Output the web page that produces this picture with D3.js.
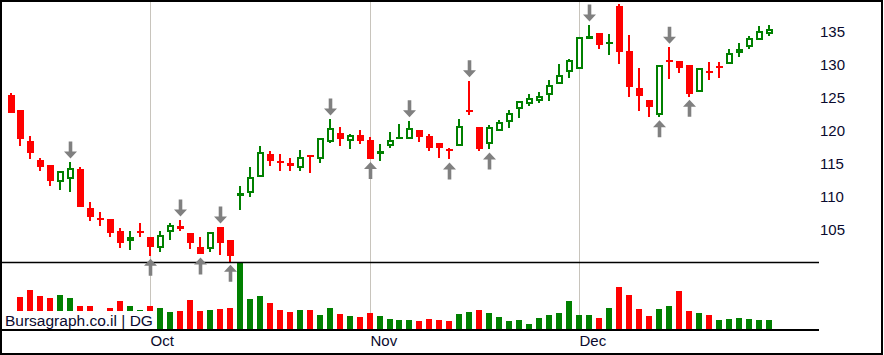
<!DOCTYPE html>
<html>
<head>
<meta charset="utf-8">
<script src="https://cdnjs.cloudflare.com/ajax/libs/d3/7.8.5/d3.min.js"></script>
<style>
  html, body { margin: 0; padding: 0; background: #fff; }
  svg { display: block; font-family: "Liberation Sans", Arial, sans-serif; }
</style>
</head>
<body>
<div id="chart"></div>
<script>
// ----- Data (one entry per trading day) -----
const opens = [
  125.45, 123.2, 118.5, 115.6, 114.85, 112.2, 112.7, 114.2, 108.3, 106.7,
  106.7, 104.85, 103.4, 104.7, 104.0, 102.2, 104.65, 105.6, 104.55, 102.4,
  102.1, 105.45, 103.5, 110.45, 110.55, 113.0, 116.5, 115.3, 115.15, 114.35,
  116.2, 115.8, 118.4, 119.7, 118.5, 119.4, 118.6, 116.7, 117.8, 118.9,
  118.75, 120.15, 119.25, 118.2, 117.15, 117.7, 123.0, 120.6, 118.0, 120.0,
  121.3, 123.4, 124.05, 124.5, 125.4, 127.1, 128.9, 129.45, 133.9, 134.85,
  133.4, 138.9, 132.1, 126.5, 124.7, 122.5, 130.6, 130.6, 130.0, 125.95,
  128.95, 129.7, 130.1, 131.8, 132.7, 133.8, 134.65
];
const highs = [
  125.7, 123.2, 119.2, 115.9, 114.85, 113.9, 115.3, 114.5, 109.2, 107.7,
  106.7, 105.3, 104.85, 106.0, 104.0, 104.85, 106.0, 106.5, 104.55, 103.9,
  104.65, 105.45, 103.5, 111.6, 114.55, 117.8, 116.95, 116.5, 115.9, 117.1,
  116.2, 118.9, 121.8, 120.6, 119.55, 120.15, 119.1, 118.0, 119.85, 121.05,
  121.55, 120.15, 119.55, 118.2, 117.4, 121.8, 127.6, 120.6, 120.9, 121.7,
  123.2, 124.5, 125.6, 125.9, 127.7, 130.15, 130.9, 134.25, 136.05, 134.85,
  134.7, 139.25, 134.55, 129.55, 124.7, 129.95, 132.7, 130.6, 130.0, 129.55,
  130.5, 130.5, 132.4, 133.35, 134.45, 135.9, 136.0
];
const lows = [
  122.8, 117.8, 115.8, 114.0, 111.6, 111.0, 110.8, 108.5, 106.4, 105.65,
  104.0, 102.2, 102.0, 104.0, 101.1, 101.7, 103.5, 104.9, 102.1, 101.3,
  101.6, 101.2, 100.2, 108.0, 110.05, 113.0, 114.75, 114.0, 114.0, 114.0,
  113.7, 115.2, 118.2, 117.8, 117.3, 118.1, 115.75, 115.45, 117.5, 118.9,
  118.75, 118.4, 117.0, 115.95, 115.7, 117.7, 122.4, 117.0, 117.2, 120.0,
  120.5, 122.0, 123.8, 124.3, 124.6, 127.1, 128.1, 129.45, 133.9, 132.5,
  131.5, 130.15, 125.2, 123.1, 122.1, 122.1, 127.9, 128.8, 125.2, 125.95,
  127.8, 128.1, 130.1, 131.2, 132.4, 133.8, 134.45
];
const closes = [
  122.8, 118.8, 116.6, 114.5, 112.5, 113.9, 114.35, 108.5, 106.9, 106.55,
  104.6, 103.1, 104.0, 104.6, 102.5, 104.2, 105.7, 105.15, 103.1, 101.3,
  104.65, 103.1, 101.1, 110.6, 113.0, 116.8, 115.5, 115.05, 114.75, 116.0,
  115.95, 118.9, 120.4, 118.8, 119.35, 118.5, 115.75, 116.9, 118.6, 119.1,
  120.4, 119.05, 117.5, 117.45, 117.05, 120.75, 122.7, 117.3, 120.6, 121.4,
  122.7, 124.5, 124.95, 125.3, 127.0, 128.5, 130.7, 134.25, 134.35, 133.1,
  133.5, 131.9, 126.7, 125.35, 123.65, 129.95, 130.5, 129.6, 125.65, 129.55,
  128.85, 129.6, 131.8, 132.5, 134.05, 135.1, 135.5
];
const volumes = [
  100, 323, 390, 333, 313, 343, 313, 233, 233, 100,
  210, 283, 233, 193, 233, 213, 173, 183, 293, 183,
  193, 203, 213, 665, 300, 333, 257, 193, 173, 190,
  190, 140, 210, 150, 130, 120, 160, 130, 100, 90,
  90, 80, 100, 90, 80, 150, 170, 190, 160, 120,
  80, 90, 50, 110, 140, 160, 280, 140, 140, 110,
  210, 420, 343, 200, 130, 200, 230, 380, 180, 160,
  140, 90, 100, 110, 100, 90, 90
];

// signal arrows (day index)
const sellSignals = [6, 17, 21, 32, 40, 46, 58, 66];
const buySignals  = [14, 19, 22, 36, 44, 48, 65, 68];

// month starts (day index) and labels
const monthStarts = [14, 36, 57];
const monthLabels = ["Oct", "Nov", "Dec"];

const priceTicks = [105, 110, 115, 120, 125, 130, 135];

// ----- Layout -----
const W = 884, H = 355;
const plotRight   = 819;
const priceBottom = 262;
const volTop      = 262;
const volBottom   = 329;

const RED   = "#ff0000";
const GREEN = "#008000";
const ARROW = "#808080";
const TEXT  = "#0a0a2e";

const svg = d3.select("#chart")
  .append("svg")
  .attr("width", W)
  .attr("height", H);

const x = d3.scaleLinear()
  .domain([0, closes.length - 1])
  .range([10.5, 768.5]);

const y = d3.scaleLinear()
  .domain([100, 140])
  .range([263, -1]);

const yVol = d3.scaleLinear()
  .domain([0, 670])
  .range([volBottom, volTop]);

const days = closes.map((c, i) => ({
  i,
  o: opens[i], h: highs[i], l: lows[i], c,
  v: volumes[i],
  up: c >= opens[i],
  volUp: i === 0 ? c >= opens[i] : c >= closes[i - 1]
}));

const cx = d => Math.round(x(d.i));

// ----- Month gridlines -----
svg.append("g")
  .selectAll("line")
  .data(monthStarts)
  .enter()
  .append("line")
  .attr("x1", d => Math.round(x(d)) + 0.5)
  .attr("x2", d => Math.round(x(d)) + 0.5)
  .attr("y1", 0)
  .attr("y2", volBottom)
  .attr("stroke", "#c8c4bc")
  .attr("stroke-width", 1);

// ----- Volume bars -----
svg.append("g")
  .selectAll("rect")
  .data(days)
  .enter()
  .append("rect")
  .attr("x", d => cx(d) - 3)
  .attr("width", 6)
  .attr("y", d => yVol(d.v))
  .attr("height", d => volBottom - yVol(d.v))
  .attr("fill", d => d.volUp ? GREEN : RED)
  .attr("shape-rendering", "crispEdges");

// watermark (white box hides short bars)
svg.append("rect")
  .attr("x", 2).attr("y", 311)
  .attr("width", 152).attr("height", volBottom - 311)
  .attr("fill", "#fff");

svg.append("text")
  .attr("x", 5)
  .attr("y", 326)
  .attr("font-size", 15.5)
  .attr("fill", TEXT)
  .text("Bursagraph.co.il | DG");

// ----- Candles -----
const candles = svg.append("g").attr("shape-rendering", "crispEdges");

// wicks
candles.selectAll(".wick")
  .data(days)
  .enter()
  .append("rect")
  .attr("class", "wick")
  .attr("x", d => cx(d) - 1)
  .attr("width", 2)
  .attr("y", d => y(d.h))
  .attr("height", d => Math.max(1, y(d.l) - y(d.h)))
  .attr("fill", d => d.up ? GREEN : RED);

// red filled bodies
candles.selectAll(".down")
  .data(days.filter(d => !d.up))
  .enter()
  .append("rect")
  .attr("class", "down")
  .attr("x", d => cx(d) - 3)
  .attr("width", 7)
  .attr("y", d => Math.min(y(d.o), y(d.c + 0.0)) - (Math.abs(y(d.c) - y(d.o)) < 2 ? 1 : 0))
  .attr("height", d => Math.max(2, y(d.c) - y(d.o)))
  .attr("fill", RED);

// green hollow bodies
candles.selectAll(".up")
  .data(days.filter(d => d.up))
  .enter()
  .append("rect")
  .attr("class", "up")
  .attr("x", d => cx(d) - 2)
  .attr("width", 5)
  .attr("y", d => y(d.c) + 1)
  .attr("height", d => Math.max(0.5, y(d.o) - y(d.c) - 2))
  .attr("fill", "#fff")
  .attr("stroke", GREEN)
  .attr("stroke-width", 2);

// ----- Panel lines -----
svg.append("line")
  .attr("x1", 0).attr("x2", plotRight)
  .attr("y1", priceBottom + 0.5).attr("y2", priceBottom + 0.5)
  .attr("stroke", "#000")
  .attr("stroke-width", 1.5);

svg.append("line")
  .attr("x1", 0).attr("x2", plotRight)
  .attr("y1", volBottom + 1).attr("y2", volBottom + 1)
  .attr("stroke", "#000")
  .attr("stroke-width", 2);

// ----- Signal arrows -----
function arrowPath(tipX, tipY, dir) {
  // dir = 1 pointing down, -1 pointing up
  const headH = 7, headW = 6.5, shaftW = 1.8, shaftH = 10;
  const hy = tipY - dir * headH;
  const ty = hy - dir * shaftH;
  return `M${tipX},${tipY} L${tipX - headW},${hy} L${tipX - shaftW},${hy}
          L${tipX - shaftW},${ty} L${tipX + shaftW},${ty} L${tipX + shaftW},${hy}
          L${tipX + headW},${hy} Z`;
}

const arrows = svg.append("g").attr("fill", ARROW);

arrows.selectAll(".sell")
  .data(sellSignals.map(i => days[i]))
  .enter()
  .append("path")
  .attr("class", "sell")
  .attr("d", d => arrowPath(cx(d) + 0.5, y(d.h) - 3.5, 1));

arrows.selectAll(".buy")
  .data(buySignals.map(i => days[i]))
  .enter()
  .append("path")
  .attr("class", "buy")
  .attr("d", d => arrowPath(cx(d) + 0.5, y(d.l) + 3, -1));

// ----- Right price axis -----
svg.append("g")
  .selectAll("text")
  .data(priceTicks)
  .enter()
  .append("text")
  .attr("x", 820)
  .attr("y", d => y(d))
  .attr("dy", "0.36em")
  .attr("font-size", 15)
  .attr("fill", TEXT)
  .text(d => d);

// ----- Month labels -----
svg.append("g")
  .selectAll("text")
  .data(monthStarts)
  .enter()
  .append("text")
  .attr("x", d => Math.round(x(d)) + 0.5)
  .attr("y", 345.5)
  .attr("font-size", 15)
  .attr("fill", TEXT)
  .text((d, i) => monthLabels[i]);

// ----- Outer frame -----
svg.append("rect")
  .attr("x", 1).attr("y", 1)
  .attr("width", W - 3).attr("height", H - 2)
  .attr("fill", "none")
  .attr("stroke", "#000")
  .attr("stroke-width", 2);
</script>
</body>
</html>
